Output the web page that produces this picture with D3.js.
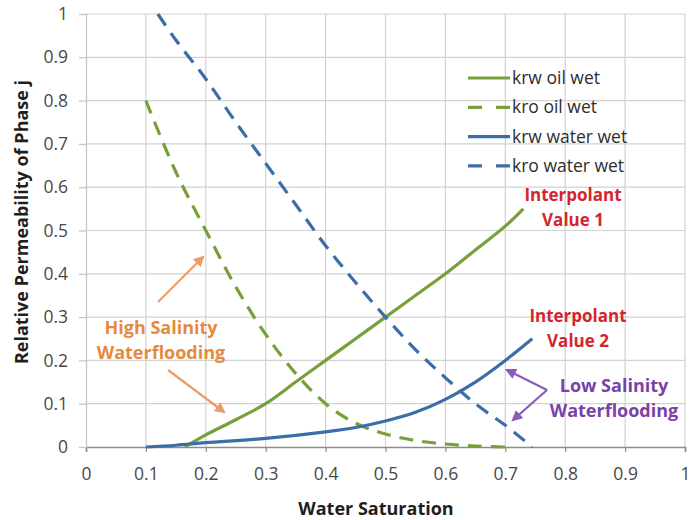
<!DOCTYPE html>
<html>
<head>
<meta charset="utf-8">
<script src="https://cdn.jsdelivr.net/npm/d3@7"></script>
<style>
  body { margin: 0; background: #fff; }
  svg { font-family: "Open Sans", Lato, sans-serif; }
</style>
</head>
<body>
<div id="chart"></div>
<script>
// data
const krwOilWet = [[0.165,0],[0.2,0.028],[0.25,0.063],[0.3,0.1],[0.35,0.15],[0.4,0.2],[0.45,0.25],[0.5,0.3],[0.55,0.35],[0.6,0.4],[0.65,0.455],[0.7,0.51],[0.73,0.55]];
const kroOilWet = [[0.1,0.8],[0.15,0.635],[0.2,0.5],[0.25,0.37],[0.3,0.26],[0.35,0.17],[0.4,0.1],[0.45,0.055],[0.5,0.03],[0.55,0.015],[0.6,0.007],[0.65,0.002],[0.7,0]];
const krwWaterWet = [[0.1,0],[0.15,0.004],[0.2,0.01],[0.3,0.02],[0.4,0.035],[0.45,0.045],[0.5,0.06],[0.55,0.08],[0.6,0.11],[0.65,0.15],[0.7,0.2],[0.745,0.25]];
const kroWaterWet = [[0.12,1.0],[0.15,0.94],[0.2,0.85],[0.25,0.75],[0.3,0.655],[0.35,0.56],[0.4,0.465],[0.45,0.38],[0.5,0.3],[0.55,0.225],[0.6,0.16],[0.65,0.1],[0.7,0.05],[0.745,0]];
const xTicks = [0,0.1,0.2,0.3,0.4,0.5,0.6,0.7,0.8,0.9,1];
const yTicks = [0,0.1,0.2,0.3,0.4,0.5,0.6,0.7,0.8,0.9,1];
const seriesNames = ["krw oil wet", "kro oil wet", "krw water wet", "kro water wet"];

const green = "#77a03a", blue = "#3b6ea8";
const series = [
  {name: seriesNames[0], data: krwOilWet, color: green, dash: null},
  {name: seriesNames[1], data: kroOilWet, color: green, dash: "14,9"},
  {name: seriesNames[2], data: krwWaterWet, color: blue, dash: null},
  {name: seriesNames[3], data: kroWaterWet, color: blue, dash: "14,9"}
];

const W = 691, H = 520;
const margin = {top: 14, right: 6, bottom: 73, left: 86};

const svg = d3.select("#chart").append("svg")
    .attr("width", W)
    .attr("height", H);

const x = d3.scaleLinear().domain([0, 1]).range([margin.left, W - margin.right]);
const y = d3.scaleLinear().domain([0, 1]).range([H - margin.bottom, margin.top]);

// grid
svg.append("g")
    .selectAll("line")
    .data(xTicks.slice(1))
    .enter().append("line")
    .attr("x1", d => x(d)).attr("x2", d => x(d))
    .attr("y1", y(0)).attr("y2", y(1))
    .attr("stroke", "#d2d2d2").attr("stroke-width", 1.2);

svg.append("g")
    .selectAll("line")
    .data(yTicks.slice(1))
    .enter().append("line")
    .attr("x1", x(0)).attr("x2", x(1))
    .attr("y1", d => y(d)).attr("y2", d => y(d))
    .attr("stroke", "#d2d2d2").attr("stroke-width", 1.2);

// axes
const xAxis = svg.append("g")
    .attr("transform", `translate(0,${y(0)})`)
    .call(d3.axisBottom(x).tickValues(xTicks).tickFormat(d3.format("")).tickSizeOuter(0).tickSize(5).tickPadding(16));
xAxis.select(".domain").attr("stroke", "#8c8c8c").attr("stroke-width", 1.6);
xAxis.selectAll(".tick line").attr("stroke", "#8c8c8c").attr("stroke-width", 1.2);
xAxis.selectAll("text").attr("fill", "#484848").style("font-size", "17.5px").style("font-family", "Open Sans");

const yAxis = svg.append("g")
    .attr("transform", `translate(${x(0)},0)`)
    .call(d3.axisLeft(y).tickValues(yTicks).tickFormat(d3.format("")).tickSizeOuter(0).tickSize(7).tickPadding(11));
yAxis.select(".domain").attr("stroke", "#c4c4c4").attr("stroke-width", 1.2);
yAxis.selectAll(".tick line").attr("stroke", "#c4c4c4").attr("stroke-width", 1.2);
yAxis.selectAll("text").attr("fill", "#484848").style("font-size", "17.5px").style("font-family", "Open Sans");

// axis titles
svg.append("text")
    .attr("x", 376)
    .attr("y", 515)
    .attr("text-anchor", "middle")
    .attr("font-weight", "bold")
    .style("font-size", "18px")
    .attr("fill", "#1e1e1e")
    .text("Water Saturation");

svg.append("text")
    .attr("transform", "translate(28,222) rotate(-90)")
    .attr("text-anchor", "middle")
    .attr("font-weight", "bold")
    .style("font-size", "18px")
    .attr("fill", "#1e1e1e")
    .text("Relative Permeability of Phase j");

// curves
const line = d3.line()
    .x(d => x(d[0]))
    .y(d => y(d[1]))
    .curve(d3.curveCatmullRom.alpha(0.5));

svg.append("g")
    .selectAll("path")
    .data(series)
    .enter().append("path")
    .attr("d", d => line(d.data))
    .attr("fill", "none")
    .attr("stroke", d => d.color)
    .attr("stroke-width", 3.2)
    .attr("stroke-dasharray", d => d.dash);

// legend
const legend = svg.append("g").attr("transform", "translate(468,78)");
const rows = legend.selectAll("g")
    .data(series)
    .enter().append("g")
    .attr("transform", (d, i) => `translate(0,${i * 29.3})`);
rows.append("line")
    .attr("x1", 0).attr("x2", 42)
    .attr("stroke", d => d.color)
    .attr("stroke-width", 3.2)
    .attr("stroke-dasharray", d => d.dash ? "14,14" : null);
rows.append("text")
    .attr("x", 44).attr("y", 6)
    .style("font-size", "17.5px")
    .attr("fill", "#2e2e2e")
    .text(d => d.name);

// annotations
function label(lines, cx, cy, color, weight, size) {
    svg.append("text")
        .attr("text-anchor", "middle")
        .attr("font-weight", weight)
        .style("font-size", size + "px")
        .attr("fill", color)
        .selectAll("tspan")
        .data(lines)
        .enter().append("tspan")
        .attr("x", cx)
        .attr("y", (d, i) => cy + i * 25)
        .text(d => d);
}
label(["Interpolant", "Value 1"], 573, 201, "#d3262c", "bold", 17);
label(["Interpolant", "Value 2"], 578, 322, "#d3262c", "bold", 17);
label(["Low Salinity", "Waterflooding"], 614, 392, "#7a42a6", "bold", 18);
label(["High Salinity", "Waterflooding"], 161, 334, "#e58a3e", "bold", 18);

// arrows
const defs = svg.append("defs");
function marker(id, color) {
    defs.append("marker")
        .attr("id", id)
        .attr("viewBox", "0 0 10 10")
        .attr("refX", 8).attr("refY", 5)
        .attr("markerWidth", 5).attr("markerHeight", 5)
        .attr("orient", "auto")
        .append("path")
        .attr("d", "M0,0 L10,5 L0,10 z")
        .attr("fill", color);
}
marker("arrOrange", "#eb9d68");
marker("arrPurple", "#8a5cb8");

const arrows = [
    [158, 302, 203, 257, "#eb9d68", "arrOrange"],
    [168, 370, 224, 412, "#eb9d68", "arrOrange"],
    [547, 390, 507, 370, "#8a5cb8", "arrPurple"],
    [547, 390, 513, 420, "#8a5cb8", "arrPurple"]
];
svg.append("g")
    .selectAll("line")
    .data(arrows)
    .enter().append("line")
    .attr("x1", d => d[0]).attr("y1", d => d[1])
    .attr("x2", d => d[2]).attr("y2", d => d[3])
    .attr("stroke", d => d[4])
    .attr("stroke-width", 2.2)
    .attr("marker-end", d => `url(#${d[5]})`);
</script>
</body>
</html>
